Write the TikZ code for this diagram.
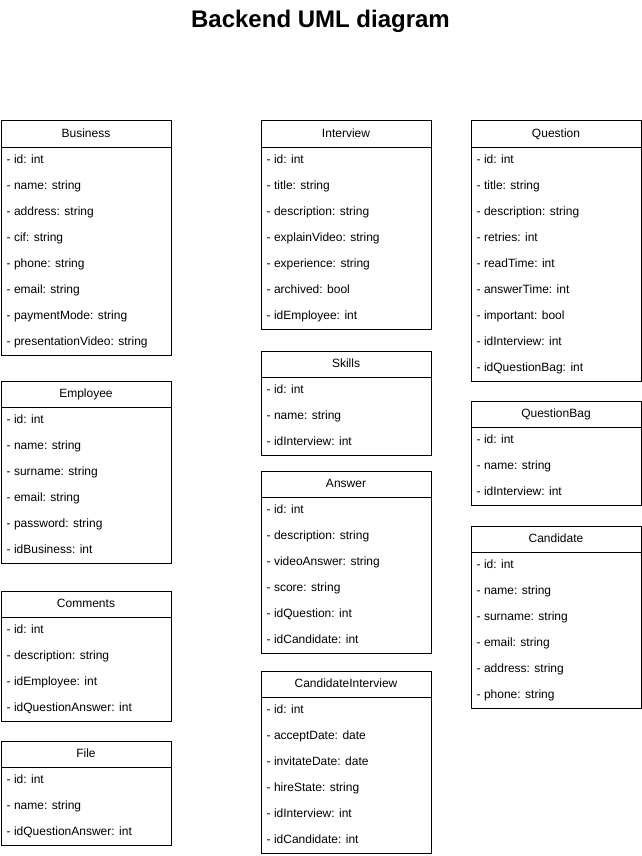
\documentclass[tikz,border=0pt]{standalone}
\usepackage{fontspec}
\setmainfont{Liberation Sans}
\begin{document}
\begin{tikzpicture}[x=1pt,y=-1pt,
  hdr/.style={draw=black,line width=1pt,fill=white,minimum width=170pt,minimum height=26pt,inner sep=0pt,text height=8.6pt,text depth=2.6pt,anchor=north west,font=\fontsize{12}{14}\selectfont},
  bodybox/.style={draw=black,line width=1pt,fill=white,minimum width=170pt,inner sep=0pt,anchor=north west},
  rowtext/.style={anchor=base west,inner sep=0pt,font=\fontsize{12}{14}\selectfont},
  ttl/.style={font=\fontsize{24}{28}\selectfont\bfseries}]
\useasboundingbox (0,0) rectangle (641,856);
\newcommand\umlclass[6]{%
  \node[bodybox,minimum height=#5*26pt] (#1-body) at (#2,#3+26) {};
  \node[hdr] (#1) at (#2,#3) {#4};
  \foreach \t [count=\i] in {#6} {
    \node[rowtext] (#1-\i) at (#2+6,#3+26+13+4.3+26*\i-26) {\t};
  }%
}
\node[ttl] (title) at (320.5,21) {Backend UML diagram};
\umlclass{business}{0.5}{120.5}{Business}{8}{- id: int,- name: string,- address: string,- cif: string,- phone: string,- email: string,- paymentMode: string,- presentationVideo: string}
\umlclass{employee}{0.5}{380.5}{Employee}{6}{- id: int,- name: string,- surname: string,- email: string,- password: string,- idBusiness: int}
\umlclass{comments}{0.5}{590.5}{Comments}{4}{- id: int,- description: string,- idEmployee: int,- idQuestionAnswer: int}
\umlclass{file}{0.5}{740.5}{File}{3}{- id: int,- name: string,- idQuestionAnswer: int}
\umlclass{interview}{260.5}{120.5}{Interview}{7}{- id: int,- title: string,- description: string,- explainVideo: string,- experience: string,- archived: bool,- idEmployee: int}
\umlclass{skills}{260.5}{350.5}{Skills}{3}{- id: int,- name: string,- idInterview: int}
\umlclass{answer}{260.5}{470.5}{Answer}{6}{- id: int,- description: string,- videoAnswer: string,- score: string,- idQuestion: int,- idCandidate: int}
\umlclass{candint}{260.5}{670.5}{CandidateInterview}{6}{- id: int,- acceptDate: date,- invitateDate: date,- hireState: string,- idInterview: int,- idCandidate: int}
\umlclass{question}{470.5}{120.5}{Question}{9}{- id: int,- title: string,- description: string,- retries: int,- readTime: int,- answerTime: int,- important: bool,- idInterview: int,- idQuestionBag: int}
\umlclass{qbag}{470.5}{400.5}{QuestionBag}{3}{- id: int,- name: string,- idInterview: int}
\umlclass{candidate}{470.5}{525.5}{Candidate}{6}{- id: int,- name: string,- surname: string,- email: string,- address: string,- phone: string}
\end{tikzpicture}
\end{document}
